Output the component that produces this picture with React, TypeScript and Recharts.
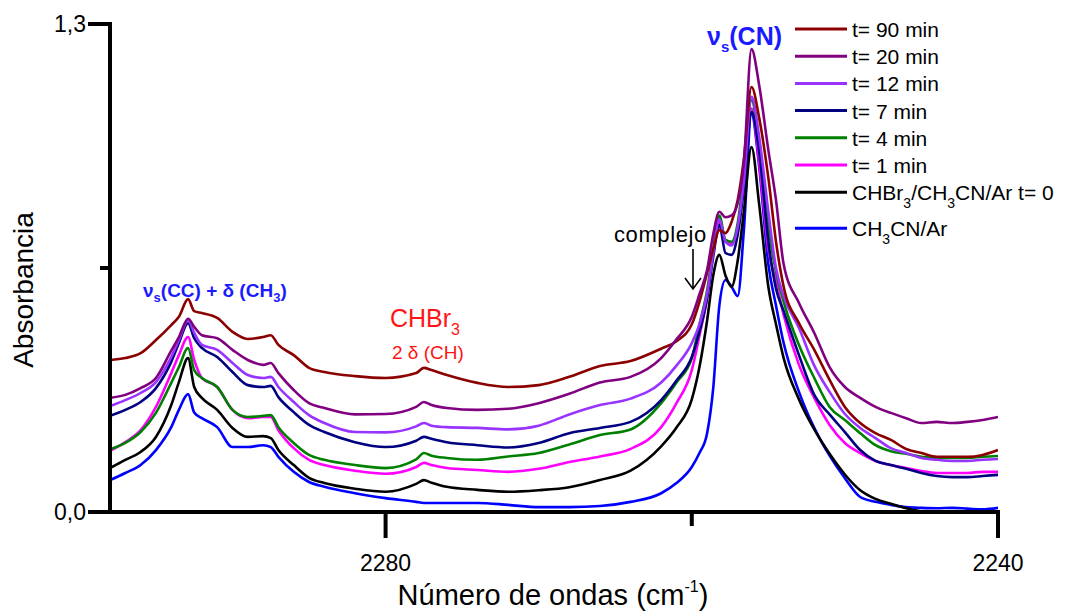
import { Legend, Line, LineChart, XAxis, YAxis } from "recharts";

const FONT = '"Liberation Sans", Arial, sans-serif';

// wavenumber (cm-1), axis runs high -> low
const WAVENUMBERS = [
  2298, 2297, 2296, 2295, 2294, 2293.5, 2292.9, 2292.5, 2292, 2291, 2290, 2289, 2288, 2287.5, 2287,
  2286, 2285, 2284, 2282, 2280, 2278, 2277.5, 2277, 2276, 2274, 2272, 2270, 2268, 2266, 2264, 2262,
  2261, 2260, 2259.5, 2259, 2258.6, 2258.2, 2257.8, 2257.4, 2257, 2256.6, 2256.1, 2255.6, 2255,
  2254.5, 2254, 2253, 2252, 2251, 2250, 2249, 2248, 2247, 2246, 2245, 2244, 2243, 2242, 2241, 2240,
];

const T90 = [
  0.405, 0.41, 0.423, 0.458, 0.498, 0.52, 0.567, 0.535, 0.53, 0.517, 0.48, 0.461, 0.466, 0.471, 0.445,
  0.418, 0.384, 0.373, 0.362, 0.357, 0.37, 0.384, 0.378, 0.365, 0.344, 0.333, 0.338, 0.36, 0.389, 0.402,
  0.435, 0.455, 0.5, 0.56, 0.637, 0.7, 0.751, 0.743, 0.773, 0.831, 0.94, 1.132, 1.05, 0.89, 0.72, 0.6,
  0.503, 0.432, 0.352, 0.28, 0.237, 0.21, 0.192, 0.168, 0.157, 0.147, 0.147, 0.147, 0.152, 0.165,
];

const T20 = [
  0.304, 0.312, 0.33, 0.357, 0.43, 0.466, 0.515, 0.493, 0.471, 0.463, 0.432, 0.405, 0.392, 0.397, 0.37,
  0.325, 0.29, 0.277, 0.26, 0.261, 0.28, 0.293, 0.285, 0.277, 0.272, 0.275, 0.29, 0.315, 0.345, 0.36,
  0.41, 0.46, 0.52, 0.58, 0.645, 0.74, 0.8, 0.785, 0.79, 0.823, 0.93, 1.233, 1.137, 0.964, 0.831, 0.66,
  0.557, 0.477, 0.386, 0.333, 0.304, 0.28, 0.264, 0.25, 0.237, 0.24, 0.237, 0.24, 0.245, 0.253,
];

const T12 = [
  0.282, 0.298, 0.317, 0.346, 0.413, 0.458, 0.511, 0.477, 0.445, 0.432, 0.397, 0.365, 0.357, 0.36, 0.333,
  0.293, 0.258, 0.237, 0.213, 0.212, 0.228, 0.237, 0.23, 0.226, 0.224, 0.22, 0.23, 0.26, 0.285, 0.302,
  0.345, 0.39, 0.45, 0.5, 0.58, 0.69, 0.78, 0.72, 0.71, 0.76, 0.88, 1.106, 1.0, 0.8, 0.65, 0.575,
  0.49, 0.39, 0.32, 0.261, 0.224, 0.197, 0.17, 0.157, 0.144, 0.139, 0.136, 0.136, 0.139, 0.141,
];

const T7 = [
  0.256, 0.272, 0.293, 0.33, 0.4, 0.45, 0.503, 0.463, 0.437, 0.413, 0.373, 0.338, 0.333, 0.336, 0.306,
  0.266, 0.232, 0.213, 0.186, 0.173, 0.19, 0.2, 0.195, 0.186, 0.178, 0.172, 0.184, 0.21, 0.224, 0.24,
  0.298, 0.35, 0.413, 0.48, 0.57, 0.68, 0.765, 0.69, 0.685, 0.74, 0.86, 1.066, 0.96, 0.72, 0.595, 0.535,
  0.418, 0.312, 0.26, 0.213, 0.165, 0.136, 0.125, 0.115, 0.104, 0.096, 0.093, 0.093, 0.096, 0.099,
];

const T4 = [
  0.167, 0.184, 0.213, 0.264, 0.344, 0.386, 0.437, 0.378, 0.357, 0.333, 0.272, 0.253, 0.256, 0.258, 0.226,
  0.184, 0.152, 0.139, 0.125, 0.117, 0.14, 0.157, 0.15, 0.144, 0.139, 0.148, 0.157, 0.18, 0.205, 0.22,
  0.29, 0.345, 0.41, 0.5, 0.59, 0.7, 0.79, 0.725, 0.72, 0.77, 0.9, 1.097, 0.98, 0.76, 0.64, 0.56,
  0.445, 0.357, 0.28, 0.245, 0.21, 0.178, 0.162, 0.155, 0.147, 0.144, 0.144, 0.144, 0.147, 0.149,
];

const T1 = [
  0.163, 0.186, 0.218, 0.28, 0.37, 0.418, 0.466, 0.405, 0.357, 0.333, 0.272, 0.25, 0.253, 0.253, 0.218,
  0.17, 0.139, 0.125, 0.11, 0.102, 0.12, 0.131, 0.125, 0.117, 0.112, 0.107, 0.115, 0.133, 0.148, 0.168,
  0.226, 0.29, 0.378, 0.47, 0.57, 0.69, 0.775, 0.72, 0.715, 0.76, 0.88, 1.075, 0.93, 0.7, 0.615, 0.525,
  0.392, 0.304, 0.232, 0.184, 0.157, 0.136, 0.125, 0.117, 0.109, 0.104, 0.104, 0.104, 0.107, 0.107,
];

const T0 = [
  0.117, 0.139, 0.16, 0.2, 0.285, 0.346, 0.41, 0.333, 0.304, 0.272, 0.224, 0.2, 0.202, 0.197, 0.165,
  0.125, 0.091, 0.077, 0.062, 0.054, 0.075, 0.085, 0.078, 0.067, 0.059, 0.054, 0.058, 0.066, 0.085, 0.11,
  0.175, 0.225, 0.3, 0.386, 0.51, 0.63, 0.685, 0.63, 0.6, 0.67, 0.8, 0.972, 0.82, 0.6, 0.5, 0.41,
  0.3, 0.22, 0.155, 0.1, 0.058, 0.035, 0.022, 0.01, 0.002, 0, 0, 0, 0, 0,
];

const REF = [
  0.085, 0.104, 0.125, 0.165, 0.226, 0.272, 0.314, 0.265, 0.25, 0.226, 0.173, 0.173, 0.178, 0.173, 0.147,
  0.107, 0.08, 0.067, 0.05, 0.037, 0.027, 0.024, 0.024, 0.024, 0.024, 0.019, 0.013, 0.013, 0.016, 0.027,
  0.05, 0.077, 0.12, 0.157, 0.21, 0.33, 0.55, 0.618, 0.6, 0.575, 0.75, 1.06, 0.92, 0.66, 0.55, 0.45,
  0.32, 0.224, 0.15, 0.09, 0.04, 0.027, 0.019, 0.013, 0.011, 0.01, 0.011, 0.009, 0.007, 0.011,
];

const X_TICKS = [2240, 2260, 2280];
const Y_TICKS = [0, 0.65, 1.3];

// legend order (top to bottom)
const SERIES = [
  { key: "t90", label: "t= 90 min", color: "#8b0000", values: T90 },
  { key: "t20", label: "t= 20 min", color: "#800080", values: T20 },
  { key: "t12", label: "t= 12 min", color: "#9933ff", values: T12 },
  { key: "t7", label: "t= 7 min", color: "#000080", values: T7 },
  { key: "t4", label: "t= 4 min", color: "#008000", values: T4 },
  { key: "t1", label: "t= 1 min", color: "#ff00ff", values: T1 },
  { key: "t0", label: "CHBr3/CH3CN/Ar t= 0", color: "#000000", values: T0 },
  { key: "ref", label: "CH3CN/Ar", color: "#0000ff", values: REF },
];

// painting order (last on top)
const DRAW_ORDER = ["ref", "t0", "t1", "t4", "t7", "t12", "t90", "t20"];

const data = WAVENUMBERS.map((wn, i) => {
  const row: Record<string, number> = { wn };
  SERIES.forEach((s) => {
    row[s.key] = s.values[i];
  });
  return row;
});

// digits right after a letter become subscripts (CHBr3, CH3CN)
function chemSpans(text: string, subSize: number, shift: number) {
  const parts: { t: string; sub: boolean }[] = [];
  for (let i = 0; i < text.length; i++) {
    const ch = text[i];
    const sub = /\d/.test(ch) && /[A-Za-z]/.test(text[i - 1] ?? "");
    const last = parts[parts.length - 1];
    if (last && last.sub === sub) last.t += ch;
    else parts.push({ t: ch, sub });
  }
  let down = false;
  return parts.map((p, i) => {
    let dy = 0;
    if (p.sub && !down) {
      dy = shift;
      down = true;
    } else if (!p.sub && down) {
      dy = -shift;
      down = false;
    }
    return (
      <tspan key={i} dy={dy} fontSize={p.sub ? subSize : undefined}>
        {p.t}
      </tspan>
    );
  });
}

function XTick(props: any) {
  const { x, y, payload } = props;
  const major = payload.value % 40 === 0;
  return (
    <g>
      <line x1={x} x2={x} y1={y} y2={y + (major ? 26 : 14)} stroke="#000" strokeWidth={4} />
      {major && (
        <text x={x} y={y + 59} textAnchor="middle" fontSize={23} fontFamily={FONT} fill="#000">
          {payload.value}
        </text>
      )}
    </g>
  );
}

function YTick(props: any) {
  const { x, y, payload } = props;
  const major = payload.value !== 0.65;
  return (
    <g>
      <line x1={x - (major ? 22 : 10)} x2={x} y1={y} y2={y} stroke="#000" strokeWidth={4} />
      {major && (
        <text x={x - 24} y={y + 8} textAnchor="end" fontSize={23} fontFamily={FONT} fill="#000">
          {payload.value.toFixed(1).replace(".", ",")}
        </text>
      )}
    </g>
  );
}

function LegendBox() {
  let cy = 29;
  return (
    <svg width={296} height={250} style={{ display: "block" }}>
      {SERIES.map((s, i) => {
        if (i > 0) cy += /[A-Za-z]\d/.test(SERIES[i - 1].label) ? 36 : 27.2;
        return (
          <g key={s.key}>
            <line x1={25} x2={77} y1={cy} y2={cy} stroke={s.color} strokeWidth={3} />
            <text x={82} y={cy + 8} fontSize={21} fontFamily={FONT} fill="#000">
              {chemSpans(s.label, 14, 8)}
            </text>
          </g>
        );
      })}
    </svg>
  );
}

function Annotations() {
  const blue = "#1a1aff";
  const red = "#ff1414";
  return (
    <svg
      width={1066}
      height={611}
      style={{ position: "absolute", left: 0, top: 0, pointerEvents: "none" }}
      fontFamily={FONT}
    >
      <text x={707} y={45} fill={blue} fontSize={25} fontWeight="bold">
        ν<tspan fontSize={15} dy={7}>s</tspan>
        <tspan dy={-7}>(CN)</tspan>
      </text>
      <text x={143} y={297} fill={blue} fontSize={19} fontWeight="bold">
        ν<tspan fontSize={13} dy={5}>s</tspan>
        <tspan dy={-5}>(CC) + δ (CH</tspan>
        <tspan fontSize={13} dy={5}>3</tspan>
        <tspan dy={-5}>)</tspan>
      </text>
      <text x={390} y={327} fill={red} fontSize={25}>
        CHBr<tspan fontSize={16} dy={8}>3</tspan>
      </text>
      <text x={392} y={359} fill={red} fontSize={19}>
        2 δ (CH)
      </text>
      <text x={614} y={242} fill="#000" fontSize={22} letterSpacing={0.6}>
        complejo
      </text>
      <line x1={693} x2={693} y1={249} y2={289} stroke="#000" strokeWidth={1.6} />
      <polyline points="685,278 693,289 701,278" fill="none" stroke="#000" strokeWidth={1.6} />
      <text x={553} y={605} textAnchor="middle" fontSize={29} fill="#000">
        Número de ondas (cm<tspan fontSize={16} dy={-13}>-1</tspan>
        <tspan dy={13}>)</tspan>
      </text>
      <text transform="translate(33,290) rotate(-90)" textAnchor="middle" fontSize={28} fill="#000">
        Absorbancia
      </text>
    </svg>
  );
}

export default function App() {
  return (
    <div style={{ position: "absolute", left: 0, top: 0, width: 1066, height: 611, background: "#fff" }}>
      <LineChart
        width={1066}
        height={611}
        data={data}
        margin={{ top: 24, right: 68, bottom: 98, left: 109 }}
      >
        <XAxis
          type="number"
          dataKey="wn"
          domain={[2240, 2298]}
          reversed
          allowDataOverflow
          ticks={X_TICKS}
          interval={0}
          height={1}
          tickSize={0}
          tickMargin={0}
          tickLine={false}
          tick={<XTick />}
          axisLine={{ stroke: "#000", strokeWidth: 4, strokeLinecap: "square" }}
        />
        <YAxis
          type="number"
          domain={[0, 1.3]}
          allowDataOverflow
          ticks={Y_TICKS}
          interval={0}
          width={1}
          tickSize={0}
          tickMargin={0}
          tickLine={false}
          tick={<YTick />}
          axisLine={{ stroke: "#000", strokeWidth: 4, strokeLinecap: "square" }}
        />
        <Legend
          layout="vertical"
          align="center"
          verticalAlign="middle"
          content={() => <LegendBox />}
          wrapperStyle={{ left: 770, top: 0, width: 296, height: 250 }}
        />
        {DRAW_ORDER.map((key) => {
          const s = SERIES.find((d) => d.key === key)!;
          return (
            <Line
              key={s.key}
              type="monotone"
              dataKey={s.key}
              name={s.label}
              stroke={s.color}
              strokeWidth={2.6}
              dot={false}
              isAnimationActive={false}
            />
          );
        })}
      </LineChart>
      <Annotations />
    </div>
  );
}
